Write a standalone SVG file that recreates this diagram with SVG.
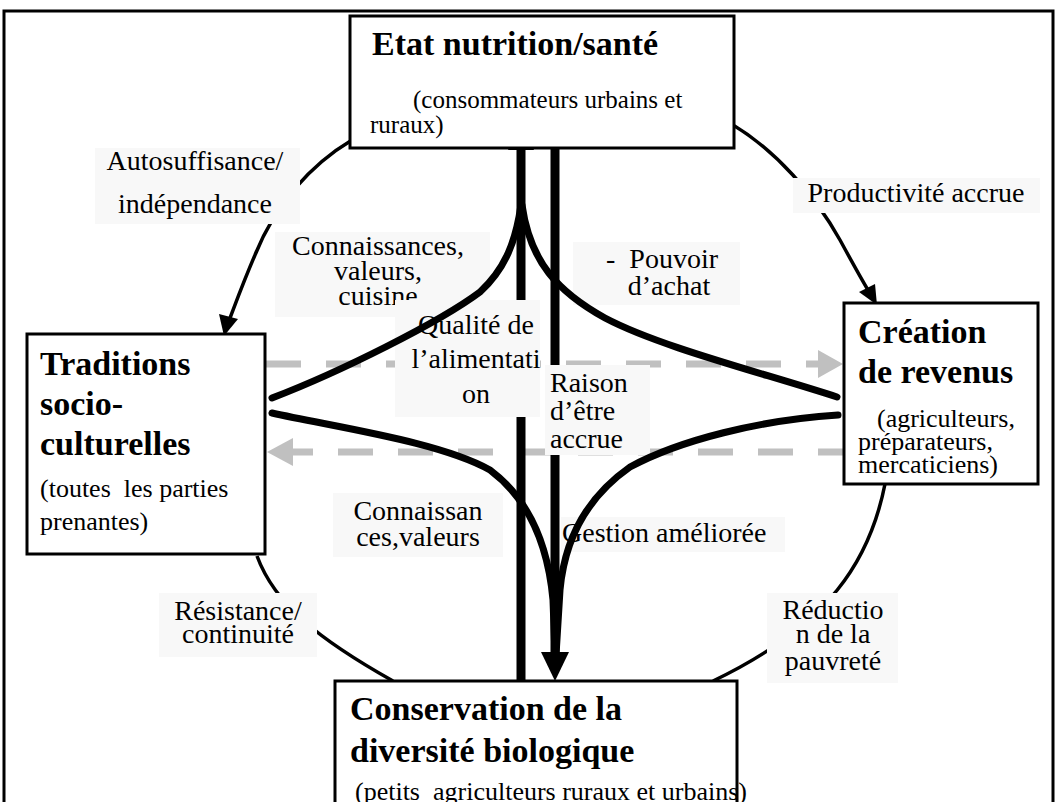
<svg xmlns="http://www.w3.org/2000/svg" width="1057" height="802" viewBox="0 0 1057 802">
<style>
text{font-family:"Liberation Serif","Times New Roman",serif;fill:#000}
.t{font-size:34px;font-weight:bold}
.s{font-size:26px}
.l{font-size:28px}
.box{fill:#fff;stroke:#000;stroke-width:3}
.lbg{fill:#f8f8f8}
.arc{fill:none;stroke:#000;stroke-width:3.5}
.cv{fill:none;stroke:#000;stroke-width:7;stroke-linecap:round}
.sh{fill:none;stroke:#000;stroke-width:9}
.gd{fill:none;stroke:#c0c0c0;stroke-width:7;stroke-dasharray:35 25}
</style>
<rect x="4" y="11" width="1049" height="820" fill="#fff" stroke="#000" stroke-width="3"/>
<g id="connectors">
<path class="arc" d="M352,140 C310,165 275,205 255,255 C243,283 235,305 230,318"/>
<polygon points="224,336 219,314 238,319"/>
<path class="arc" d="M733,125 C775,150 815,195 840,240 C852,262 862,280 868,290"/>
<polygon points="877,305 859,292 875,284"/>
<path class="arc" d="M257,556 C275,605 320,640 393,681"/>
<path class="arc" d="M885,484 C870,560 830,625 713,681"/>
<path class="gd" d="M266,364 L820,364"/>
<polygon points="843,364 818,350 818,378" fill="#c0c0c0"/>
<path class="gd" d="M843,452 L292,452" stroke-dashoffset="10"/>
<polygon points="267,452 293,438 293,466" fill="#c0c0c0"/>
<path class="sh" d="M521,681 L521,148"/>
<polygon points="521,120 508,150 534,150"/>
<path class="sh" d="M555,118 L555,654"/>
<polygon points="555,681 541,652 569,652"/>
</g>
<g id="top">
<rect class="box" x="350" y="16" width="384" height="132"/>
<text class="t" x="372" y="55">Etat nutrition/santé</text>
<text class="s" x="413" y="108" style="font-size:25px">(consommateurs urbains et</text>
<text class="s" x="370" y="133" style="font-size:25px">ruraux)</text>
</g>
<g id="left">
<rect class="box" x="27" y="334" width="238" height="220"/>
<text class="t" x="40" y="375">Traditions</text>
<text class="t" x="40" y="415">socio-</text>
<text class="t" x="40" y="455">culturelles</text>
<text class="s" x="40" y="497" xml:space="preserve">(toutes  les parties</text>
<text class="s" x="40" y="530">prenantes)</text>
</g>
<g id="right">
<rect class="box" x="844" y="303" width="194" height="181"/>
<text class="t" x="858" y="343">Création</text>
<text class="t" x="858" y="383">de revenus</text>
<text class="s" x="877" y="427">(agriculteurs,</text>
<text class="s" x="858" y="450">préparateurs,</text>
<text class="s" x="858" y="473">mercaticiens)</text>
</g>
<g id="bottom">
<rect class="box" x="335" y="681" width="402" height="160"/>
<text class="t" x="350" y="720">Conservation de la</text>
<text class="t" x="350" y="762">diversité biologique</text>
<text class="s" x="355" y="800" xml:space="preserve">(petits  agriculteurs ruraux et urbains)</text>
</g>
<g id="labels">
<rect class="lbg" x="95" y="148" width="205" height="76"/>
<text class="l" x="195" y="170" text-anchor="middle">Autosuffisance/</text>
<text class="l" x="195" y="213" text-anchor="middle">indépendance</text>
<rect class="lbg" x="793" y="178" width="247" height="35"/>
<text class="l" x="916" y="202" text-anchor="middle">Productivité accrue</text>
<rect class="lbg" x="275" y="232" width="215" height="85"/>
<text class="l" x="378" y="255" text-anchor="middle">Connaissances,</text>
<text class="l" x="378" y="280" text-anchor="middle">valeurs,</text>
<text class="l" x="378" y="305" text-anchor="middle">cuisine</text>
<rect class="lbg" x="573" y="242" width="167" height="63"/>
<text class="l" x="662" y="268" text-anchor="middle" xml:space="preserve">-  Pouvoir</text>
<text class="l" x="669" y="295" text-anchor="middle">d’achat</text>
<rect class="lbg" x="395" y="300" width="145" height="117"/>
<text class="l" x="476" y="334" text-anchor="middle">Qualité de</text>
<text class="l" x="476" y="368" text-anchor="middle">l’alimentati</text>
<text class="l" x="476" y="403" text-anchor="middle">on</text>
<rect class="lbg" x="545" y="365" width="105" height="90"/>
<text class="l" x="550" y="392">Raison</text>
<text class="l" x="550" y="420">d’être</text>
<text class="l" x="550" y="448">accrue</text>
<rect class="lbg" x="333" y="493" width="170" height="64"/>
<text class="l" x="418" y="520" text-anchor="middle">Connaissan</text>
<text class="l" x="418" y="546" text-anchor="middle">ces,valeurs</text>
<rect class="lbg" x="561" y="517" width="224" height="35"/>
<text class="l" x="562" y="542">Gestion améliorée</text>
<rect class="lbg" x="159" y="593" width="158" height="64"/>
<text class="l" x="238" y="620" text-anchor="middle">Résistance/</text>
<text class="l" x="238" y="643" text-anchor="middle">continuité</text>
<rect class="lbg" x="767" y="593" width="131" height="90"/>
<text class="l" x="833" y="619" text-anchor="middle">Réductio</text>
<text class="l" x="833" y="643" text-anchor="middle">n de la</text>
<text class="l" x="833" y="670" text-anchor="middle">pauvreté</text>
</g>
<g id="curves">
<path class="cv" d="M272,398 C340,372 440,322 480,292 C506,268 516,240 521,205"/>
<path class="cv" d="M837,397 C760,372 660,347 605,318 C558,292 530,262 522,205"/>
<path class="cv" d="M272,413 C340,428 440,442 490,470 C530,500 548,545 553,600 L555,655"/>
<path class="cv" d="M838,415 C760,420 680,440 630,467 C590,495 565,535 560,590 L556,655"/>
</g>
</svg>
